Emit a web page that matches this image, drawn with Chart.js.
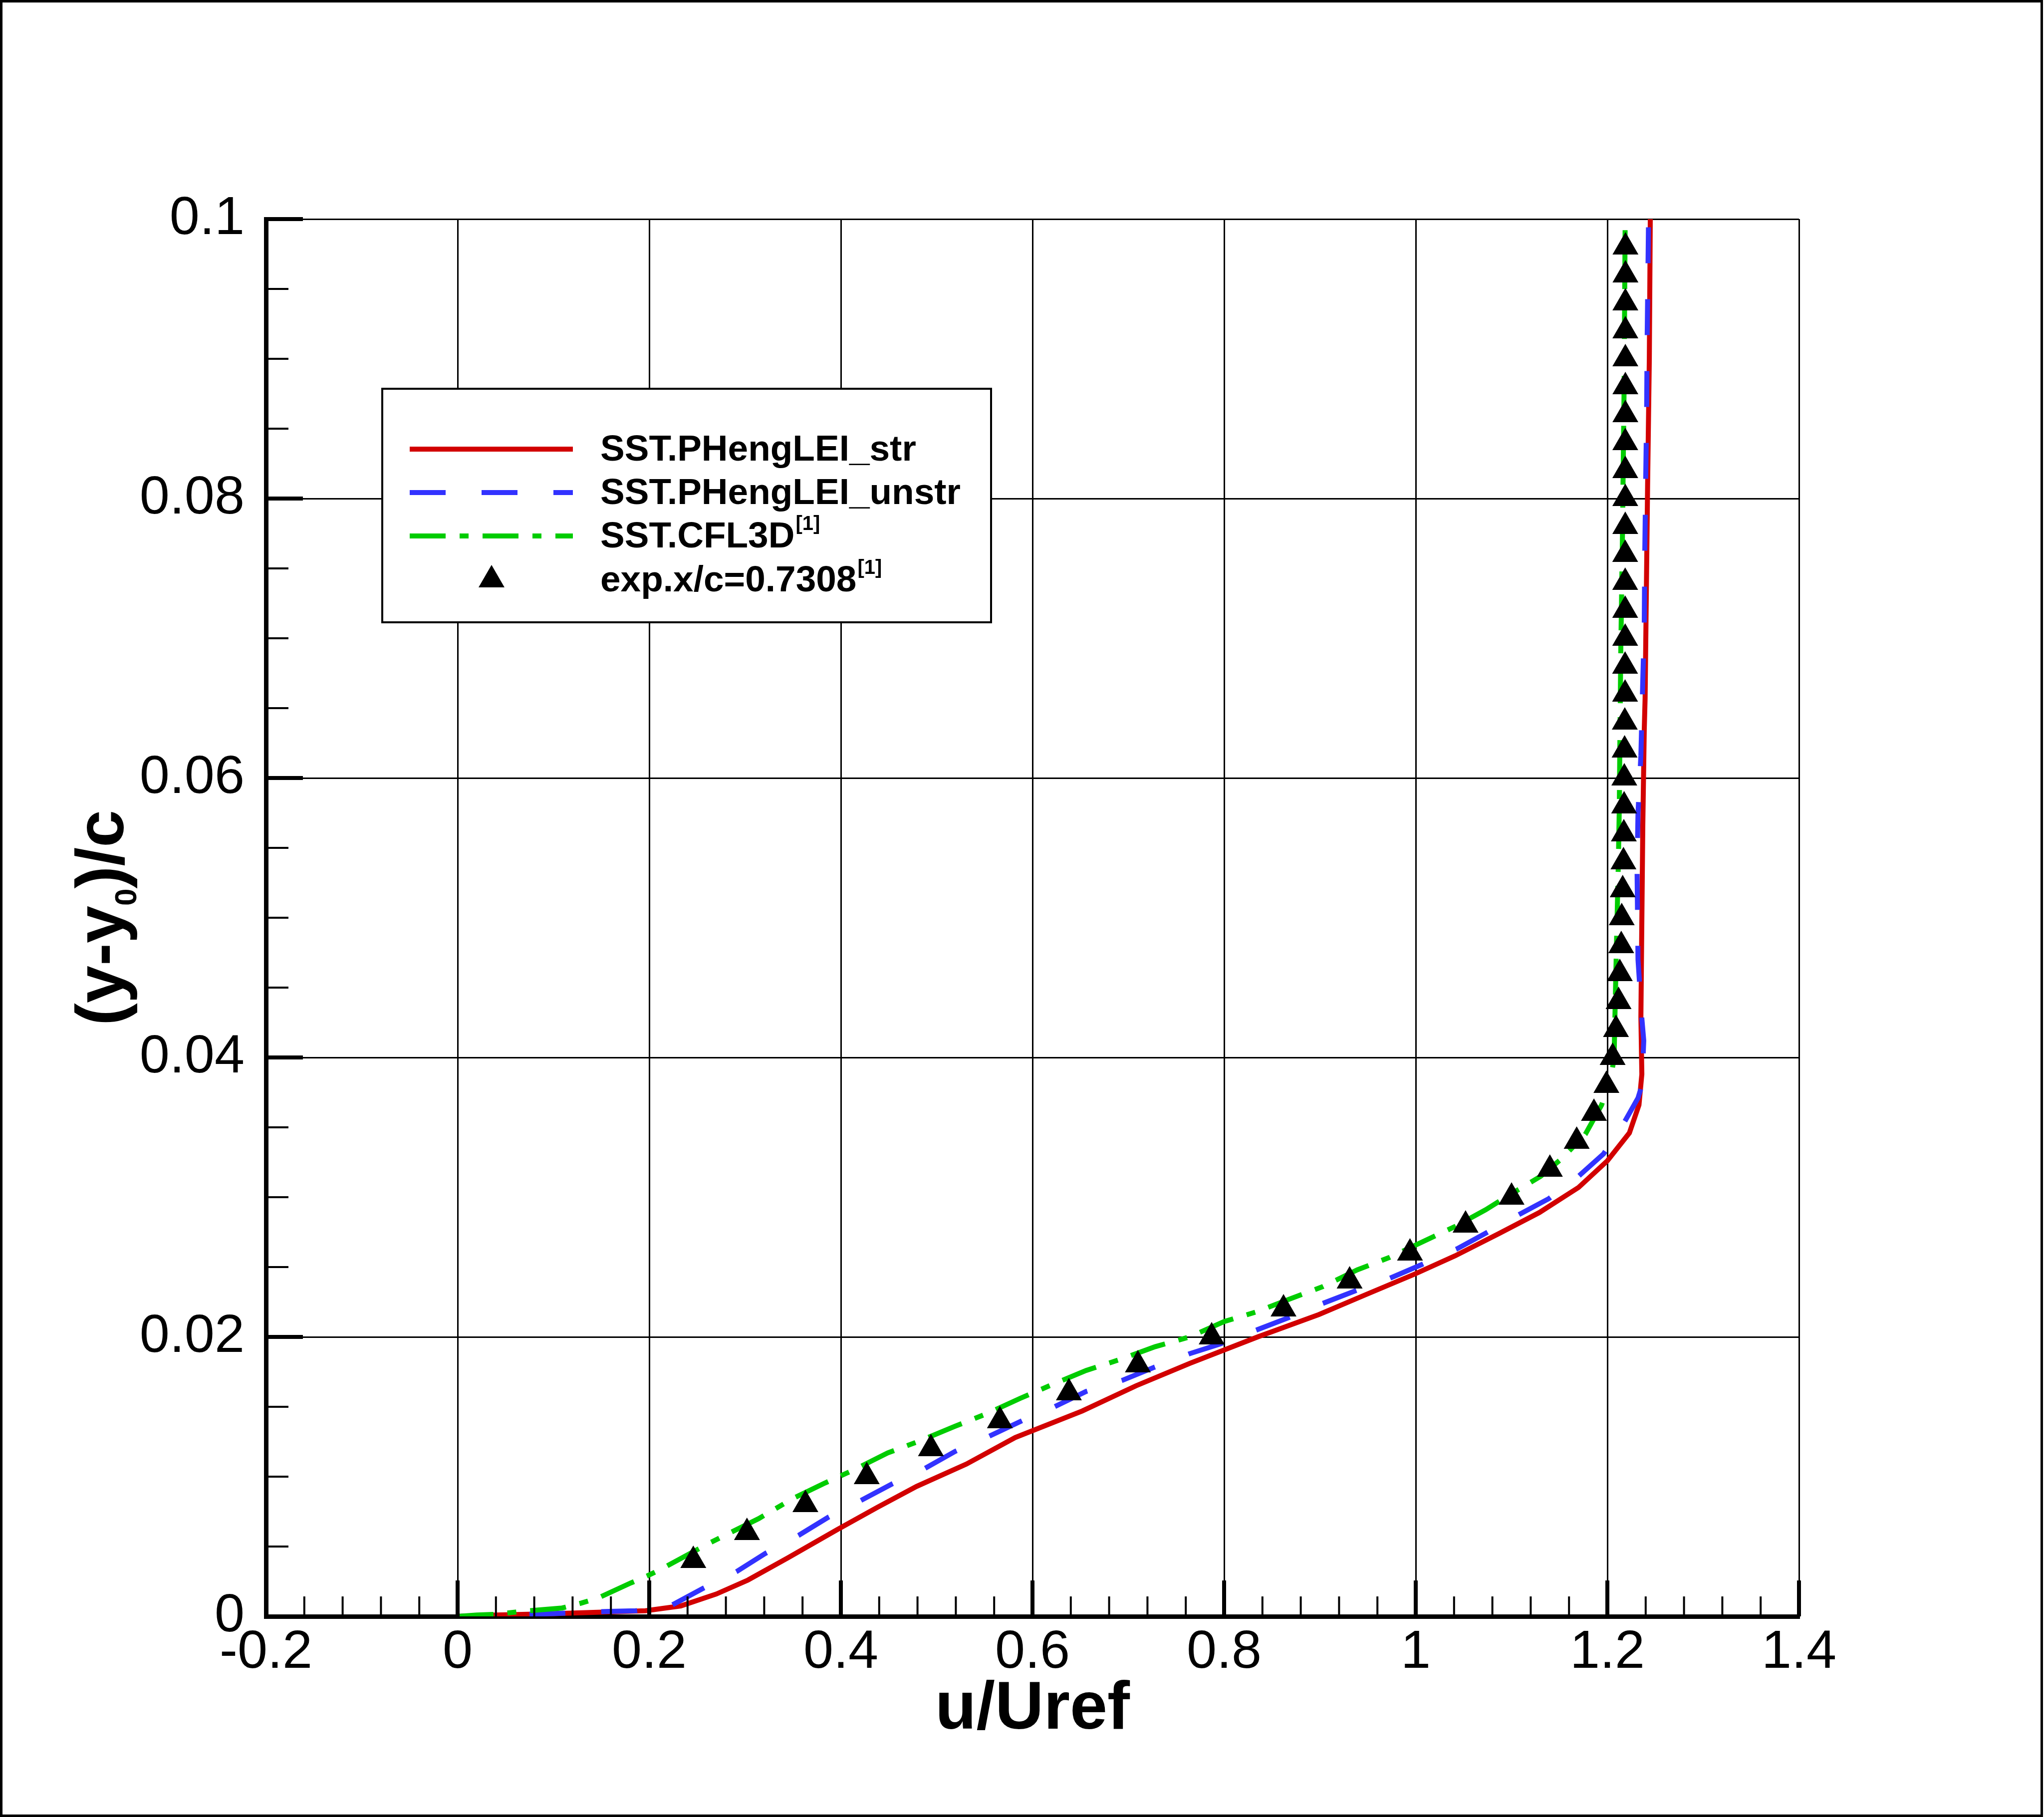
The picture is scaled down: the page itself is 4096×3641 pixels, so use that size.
<!DOCTYPE html>
<html><head><meta charset="utf-8">
<script src="https://cdn.jsdelivr.net/npm/chart.js@4.4.1/dist/chart.umd.min.js"></script>
<style>html,body{margin:0;padding:0;background:#fff;overflow:hidden}canvas{display:block}</style>
</head><body>
<canvas id="c" width="4096" height="3641" style="width:4096px;height:3641px"></canvas>
<script>
// ---- tick labels ----
const xTickValues = [-0.2, 0, 0.2, 0.4, 0.6, 0.8, 1, 1.2, 1.4];
const xTickLabels = ['-0.2', '0', '0.2', '0.4', '0.6', '0.8', '1', '1.2', '1.4'];
const yTickValues = [0, 0.02, 0.04, 0.06, 0.08, 0.1];
const yTickLabels = ['0', '0.02', '0.04', '0.06', '0.08', '0.1'];

// ---- series names ----
const seriesNames = ['SST.PHengLEI_str', 'SST.PHengLEI_unstr', 'SST.CFL3D', 'exp.x/c=0.7308'];
const seriesRefs = ['', '', '[1]', '[1]'];

// ---- SST.PHengLEI_str ----
const strX = [0, 0.04, 0.10, 0.15, 0.196, 0.233, 0.270, 0.303, 0.345, 0.396, 0.438, 0.479, 0.531, 0.582, 0.652, 0.708, 0.764, 0.835, 0.899, 0.947, 0.999, 1.041, 1.087, 1.129, 1.170, 1.200, 1.223, 1.233, 1.236, 1.235, 1.236, 1.237, 1.2385, 1.2394, 1.242, 1.2438, 1.2448];
const strY = [0, 0.0001, 0.0002, 0.0003, 0.0004, 0.00075, 0.0016, 0.0026, 0.0042, 0.0062, 0.0078, 0.0093, 0.0109, 0.0128, 0.0147, 0.0165, 0.0181, 0.0200, 0.0216, 0.0230, 0.0245, 0.0258, 0.0274, 0.0289, 0.0307, 0.0326, 0.0346, 0.0366, 0.0388, 0.0429, 0.0498, 0.0566, 0.0634, 0.0657, 0.0809, 0.0900, 0.1000];

// ---- SST.PHengLEI_unstr ----
const unstrX = [0, 0.05, 0.10, 0.158, 0.186, 0.2235, 0.256, 0.291, 0.321, 0.356, 0.387, 0.421, 0.454, 0.488, 0.519, 0.555, 0.589, 0.623, 0.656, 0.694, 0.726, 0.764, 0.796, 0.834, 0.868, 0.903, 0.937, 0.973, 1.007, 1.043, 1.075, 1.109, 1.139, 1.170, 1.196, 1.218, 1.232, 1.236, 1.238, 1.236, 1.232, 1.231, 1.232, 1.235, 1.237, 1.2385, 1.239, 1.240, 1.241, 1.2415, 1.243];
const unstrY = [0, 0.0001, 0.0002, 0.00036, 0.0004, 0.0008, 0.0020, 0.0032, 0.0045, 0.0058, 0.0071, 0.0083, 0.0095, 0.0106, 0.0118, 0.0129, 0.0140, 0.0150, 0.0161, 0.0169, 0.0178, 0.0188, 0.0195, 0.0205, 0.0214, 0.0224, 0.0233, 0.0242, 0.0252, 0.0263, 0.0275, 0.0288, 0.0299, 0.0315, 0.0331, 0.0354, 0.0371, 0.0380, 0.0412, 0.0428, 0.0470, 0.0535, 0.0575, 0.0616, 0.0670, 0.0708, 0.0758, 0.0812, 0.0862, 0.0912, 0.1000];

// ---- SST.CFL3D ----
const cflX = [0, 0.02, 0.0375, 0.0735, 0.109, 0.129, 0.147, 0.181, 0.198, 0.2144, 0.2586, 0.282, 0.3143, 0.349, 0.382, 0.414, 0.449, 0.484, 0.519, 0.552, 0.587, 0.621, 0.656, 0.692, 0.728, 0.764, 0.800, 0.834, 0.868, 0.903, 0.939, 0.973, 1.007, 1.041, 1.073, 1.094, 1.1305, 1.153, 1.177, 1.194, 1.2036, 1.207, 1.208, 1.2095, 1.2115, 1.2125, 1.213, 1.214, 1.2157, 1.2175, 1.2186];
const cflY = [0, 0.0001, 0.00014, 0.0004, 0.0006, 0.00095, 0.00133, 0.0024, 0.0029, 0.00345, 0.0051, 0.0059, 0.0070, 0.0084, 0.0095, 0.0105, 0.0117, 0.0126, 0.0136, 0.0145, 0.0156, 0.0166, 0.0176, 0.0184, 0.0193, 0.0200, 0.0211, 0.0218, 0.0227, 0.0236, 0.0248, 0.0257, 0.0268, 0.0279, 0.0291, 0.0300, 0.0315, 0.0328, 0.0345, 0.0366, 0.0386, 0.0399, 0.0432, 0.0480, 0.0540, 0.0580, 0.0620, 0.0690, 0.0770, 0.0880, 0.1000];

// ---- experiment x/c=0.7308 ----
const expX = [0.246, 0.302, 0.363, 0.427, 0.494, 0.566, 0.638, 0.710, 0.787, 0.862, 0.931, 0.994, 1.052, 1.100, 1.140, 1.168, 1.186, 1.199, 1.2055, 1.209, 1.2117, 1.213, 1.2145, 1.215, 1.216, 1.2168, 1.2172, 1.2175, 1.2177, 1.218, 1.2182, 1.2185, 1.2185, 1.2186, 1.2186, 1.2186, 1.2186, 1.2187, 1.2187, 1.2187, 1.2187, 1.2188, 1.2188, 1.2188, 1.2188, 1.2188, 1.2189, 1.2189];
const expY = [0.004, 0.006, 0.008, 0.010, 0.012, 0.014, 0.016, 0.018, 0.020, 0.022, 0.024, 0.026, 0.028, 0.030, 0.032, 0.034, 0.036, 0.038, 0.040, 0.042, 0.044, 0.046, 0.048, 0.050, 0.052, 0.054, 0.056, 0.058, 0.060, 0.062, 0.064, 0.066, 0.068, 0.070, 0.072, 0.074, 0.076, 0.078, 0.080, 0.082, 0.084, 0.086, 0.088, 0.090, 0.092, 0.094, 0.096, 0.098];

const pts = (xs, ys) => xs.map((x, i) => ({x: x, y: ys[i]}));
const FONT = "'Liberation Sans', Arial, Helvetica, sans-serif";

const datasets = [
  {label: seriesNames[0], data: pts(strX, strY), showLine: true, borderColor: '#d20000', borderWidth: 10, pointRadius: 0, tension: 0, order: 4},
  {label: seriesNames[1], data: pts(unstrX, unstrY), showLine: true, borderColor: '#3232ff', borderWidth: 10, borderDash: [72, 72], pointRadius: 0, tension: 0, order: 3},
  {label: seriesNames[2], data: pts(cflX, cflY), showLine: true, borderColor: '#00cc00', borderWidth: 10, borderDash: [72, 28, 18, 28], pointRadius: 0, tension: 0, order: 2},
  {label: seriesNames[3], data: pts(expX, expY), showLine: false, pointStyle: 'triangle', pointRadius: 30, pointBackgroundColor: '#000', pointBorderWidth: 0, pointBorderColor: '#000', order: 1}
];

function drawRich(c, x, y, main, sup, mainFont, supFont, supRise) {
  c.font = mainFont; c.textAlign = 'left'; c.textBaseline = 'alphabetic';
  c.fillText(main, x, y);
  if (sup) {
    const w = c.measureText(main).width;
    c.font = supFont; c.fillText(sup, x + w + 2, y - supRise);
  }
}

const decor = {
  id: 'decor',
  beforeDraw(chart) {
    const c = chart.ctx; c.save(); c.fillStyle = '#fff'; c.fillRect(0, 0, chart.width, chart.height); c.restore();
  },
  afterDatasetsDraw(chart) {
    const c = chart.ctx, xs = chart.scales.x, ys = chart.scales.y, a = chart.chartArea;
    c.save();
    c.strokeStyle = '#000'; c.fillStyle = '#000'; c.lineCap = 'butt';
    // inward ticks on bottom axis (major 0.2, minor 0.04)
    for (let i = 0; i <= 40; i++) {
      const v = -0.2 + i * 0.04; const px = xs.getPixelForValue(v); const major = i % 5 === 0;
      c.lineWidth = major ? 8 : 4; c.beginPath(); c.moveTo(px, a.bottom); c.lineTo(px, a.bottom - (major ? 72 : 40)); c.stroke();
    }
    // inward ticks on left axis (major 0.02, minor 0.005)
    for (let i = 0; i <= 20; i++) {
      const v = i * 0.005; const py = ys.getPixelForValue(v); const major = i % 4 === 0;
      c.lineWidth = major ? 8 : 4; c.beginPath(); c.moveTo(a.left, py); c.lineTo(a.left + (major ? 74 : 45), py); c.stroke();
    }
    // legend
    c.fillStyle = '#fff'; c.fillRect(766, 779, 1220, 468);
    c.lineWidth = 4; c.strokeStyle = '#000'; c.strokeRect(766, 779, 1220, 468);
    const rows = [923, 1010, 1097, 1185];
    datasets.forEach((ds, i) => {
      const yb = rows[i], ym = yb - 23;
      if (ds.showLine) {
        c.save(); c.strokeStyle = ds.borderColor; c.lineWidth = ds.borderWidth; c.setLineDash(ds.borderDash || []);
        c.beginPath(); c.moveTo(821, ym); c.lineTo(1148, ym); c.stroke(); c.restore();
      } else {
        const r = ds.pointRadius, cx = 985, cy = ym;
        c.fillStyle = '#000'; c.beginPath();
        c.moveTo(cx, cy - r); c.lineTo(cx + r * Math.sin(2 * Math.PI / 3), cy + r / 2); c.lineTo(cx - r * Math.sin(2 * Math.PI / 3), cy + r / 2); c.closePath(); c.fill();
      }
      c.fillStyle = '#000';
      drawRich(c, 1203, yb, seriesNames[i], seriesRefs[i], 'bold 73px ' + FONT, 'bold 40px ' + FONT, 35);
    });
    // y axis title with subscript
    c.save();
    c.translate(247, (a.top + a.bottom) / 2); c.rotate(-Math.PI / 2);
    c.fillStyle = '#000'; c.textBaseline = 'alphabetic'; c.textAlign = 'left';
    const fMain = 'bold 135px ' + FONT, fSub = 'bold 62px ' + FONT;
    c.font = fMain; const w1 = c.measureText('(y-y').width, w3 = c.measureText(')/c').width;
    c.font = fSub; const w2 = c.measureText('0').width;
    let x0 = -(w1 + w2 + w3) / 2;
    c.font = fMain; c.fillText('(y-y', x0, 0);
    c.font = fSub; c.fillText('0', x0 + w1, 26);
    c.font = fMain; c.fillText(')/c', x0 + w1 + w2, 0);
    c.restore();
    // outer frame
    c.lineWidth = 5; c.strokeStyle = '#000'; c.strokeRect(2.5, 2.5, 4089, 3636);
    c.restore();
  }
};

new Chart(document.getElementById('c').getContext('2d'), {
  type: 'scatter',
  data: {datasets: datasets},
  plugins: [decor],
  options: {
    responsive: false, animation: false, devicePixelRatio: 1,
    layout: {padding: {left: 0, top: 439, right: 491, bottom: 0}},
    plugins: {legend: {display: false}, tooltip: {enabled: false}},
    scales: {
      x: {
        type: 'linear', position: 'bottom', min: -0.2, max: 1.4,
        afterBuildTicks: (ax) => { ax.ticks = xTickValues.map(v => ({value: v})); },
        afterFit: (ax) => { ax.height = 402; },
        ticks: {callback: (v, i) => xTickLabels[i], padding: 8, color: '#000', font: {family: FONT, size: 108}, maxRotation: 0, autoSkip: false},
        grid: {color: '#000', lineWidth: 3, drawTicks: false},
        border: {display: true, color: '#000', width: 9},
        title: {display: true, text: 'u/Uref', color: '#000', font: {family: FONT, size: 135, weight: 'bold'}, padding: {top: 0, bottom: 133}}
      },
      y: {
        type: 'linear', position: 'left', min: 0, max: 0.1,
        afterBuildTicks: (ax) => { ax.ticks = yTickValues.map(v => ({value: v})); },
        afterFit: (ax) => { ax.width = 533; },
        ticks: {callback: (v, i) => yTickLabels[i], padding: 43, color: '#000', font: {family: FONT, size: 108}, autoSkip: false},
        grid: {color: '#000', lineWidth: 3, drawTicks: false},
        border: {display: true, color: '#000', width: 9}
      }
    }
  }
});
</script>
</body></html>
